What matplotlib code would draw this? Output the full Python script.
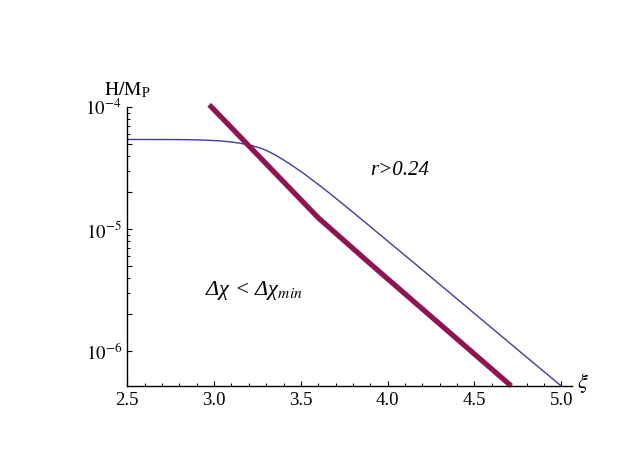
import matplotlib
matplotlib.use('Agg')
import matplotlib.pyplot as plt
from matplotlib.ticker import FixedLocator, FixedFormatter, MultipleLocator, NullFormatter

plt.rcParams['font.family'] = ['Liberation Serif', 'DejaVu Serif']
plt.rcParams['mathtext.fontset'] = 'stix'

# ---- data ----
blue_xi = [2.50, 2.80, 2.919, 2.976, 3.034, 3.092, 3.149, 3.207, 3.264,
           3.305, 3.351, 3.408, 3.466, 3.524, 3.581, 3.639, 3.725, 3.840,
           4.013, 4.186, 4.474, 4.762, 5.00]
blue_H = [5.445e-5, 5.433e-5, 5.396e-5, 5.355e-5, 5.295e-5, 5.206e-5,
          5.070e-5, 4.882e-5, 4.639e-5, 4.399e-5, 4.071e-5, 3.640e-5,
          3.208e-5, 2.809e-5, 2.438e-5, 2.107e-5, 1.683e-5, 1.234e-5,
          7.701e-6, 4.808e-6, 2.178e-6, 9.869e-7, 5.152e-7]

red_xi = [2.972, 3.60, 3.90, 4.712]
red_H = [1.050e-4, 1.239e-5, 5.188e-6, 5.152e-7]

xticks = [2.5, 3.0, 3.5, 4.0, 4.5, 5.0]
xtick_labels = ['2.5', '3.0', '3.5', '4.0', '4.5', '5.0']
ymajor = [1e-6, 2e-6, 5e-6, 1e-5, 2e-5, 5e-5, 1e-4]
ymajor_labels = [r'$10^{-6}$', '', '', r'$10^{-5}$', '', '', r'$10^{-4}$']
yminor = [3e-6, 4e-6, 6e-6, 7e-6, 8e-6, 9e-6,
          3e-5, 4e-5, 6e-5, 7e-5, 8e-5, 9e-5]

W, H = 629, 472
fig = plt.figure(figsize=(W / 100, H / 100), dpi=100)
ax = fig.add_axes([127.3 / W, 86 / H, (572 - 127.3) / W, (386 - 107.3) / H])
ax.set_yscale('log')

ax.plot(blue_xi, blue_H, color='#3d3d9e', lw=1.0)
ax.plot(red_xi, red_H, color='#8f1552', lw=3.8, clip_on=False,
        solid_capstyle='butt', solid_joinstyle='round')

ax.set_xlim(2.5, 5.062)
ax.set_ylim(5.15e-7, 1.0e-4)

for s in ['top', 'right']:
    ax.spines[s].set_visible(False)
for s in ['left', 'bottom']:
    ax.spines[s].set_linewidth(1.0)

ax.xaxis.set_major_locator(FixedLocator(xticks))
ax.xaxis.set_major_formatter(FixedFormatter(xtick_labels))
ax.xaxis.set_minor_locator(MultipleLocator(0.1))
ax.yaxis.set_major_locator(FixedLocator(ymajor))
ax.yaxis.set_major_formatter(FixedFormatter(ymajor_labels))
ax.yaxis.set_minor_locator(FixedLocator(yminor))
ax.yaxis.set_minor_formatter(NullFormatter())

ax.tick_params(which='major', direction='in', length=3.8, width=0.8,
               labelsize=13.5, pad=4)
ax.tick_params(which='minor', direction='in', length=2.2, width=0.7)

ax.text(3.898, 2.79e-5, 'r>0.24', fontsize=15, style='italic',
        ha='left', va='baseline')
ax.text(2.949, 2.88e-6, 'Δχ < Δχ' + r'$_{\mathit{min}}$',
        fontsize=16, style='italic', ha='left', va='baseline')

fig.text(127 / W, 1 - 95 / H, r'$\mathrm{H/M_P}$', fontsize=14,
         ha='center', va='baseline')
fig.text(583 / W, 1 - 383 / H, r'$\xi$', fontsize=16, ha='center', va='center')

fig.savefig('out.png', dpi=100)
